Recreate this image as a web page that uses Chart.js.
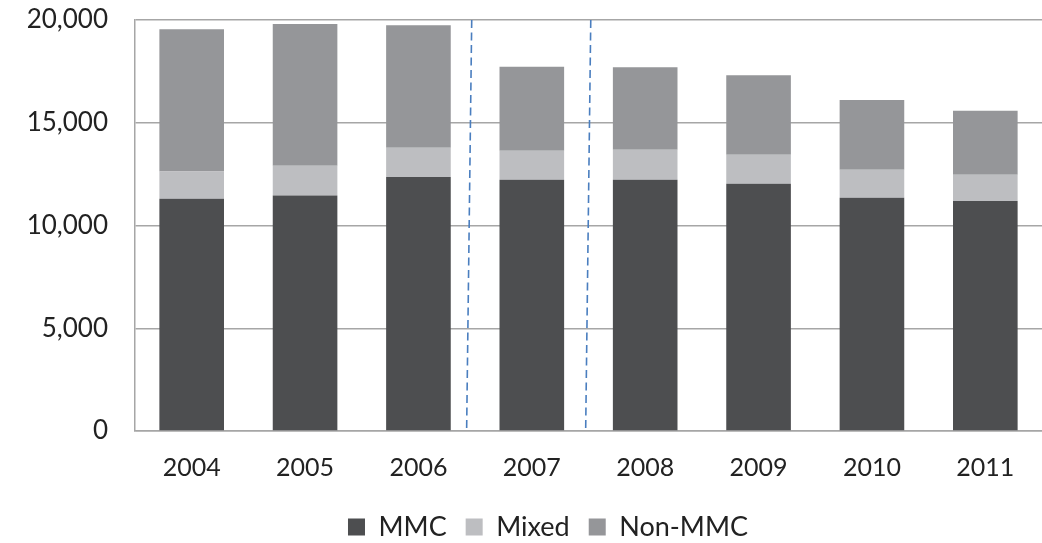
<!DOCTYPE html>
<html>
<head>
<meta charset="utf-8">
<script src="https://cdn.jsdelivr.net/npm/chart.js@4.4.1/dist/chart.umd.min.js"></script>
<style>
  html, body { margin: 0; padding: 0; background: #ffffff; }
  #wrap { width: 1042px; height: 543px; position: relative; }
</style>
</head>
<body>
<div id="wrap"><canvas id="c" width="1042" height="543"></canvas></div>
<script>
const categories = ['2004', '2005', '2006', '2007', '2008', '2009', '2010', '2011'];
const mmc    = [11300, 11460, 12355, 12225, 12225, 12030, 11350, 11190];
const mixed  = [1330, 1450, 1430, 1415, 1465, 1415, 1365, 1280];
const nonMmc = [6920, 6900, 5955, 4090, 4010, 3865, 3390, 3120];
const yTicks = [0, 5000, 10000, 15000, 20000];
// dashed separators: [index at top, index at bottom] on the category scale
const separators = [[2.47, 2.425], [3.52, 3.475]];

const FONT = 'Lato, "Open Sans", sans-serif';

const sepPlugin = {
  id: 'separators',
  afterDatasetsDraw(chart) {
    const { ctx, scales: { x, y } } = chart;
    ctx.save();
    ctx.strokeStyle = '#4a7ebf';
    ctx.lineWidth = 1.6;
    ctx.setLineDash([8, 4.5]);
    separators.forEach(([a, b]) => {
      ctx.beginPath();
      ctx.moveTo(x.getPixelForValue(a), y.getPixelForValue(20000));
      ctx.lineTo(x.getPixelForValue(b), y.getPixelForValue(0));
      ctx.stroke();
    });
    ctx.restore();
  }
};

// shift the legend block to the right, as in the original
const legendShift = {
  id: 'legendShift',
  afterLayout(chart) {
    if (chart.legend) {
      chart.legend.left += 27;
      chart.legend.right += 27;
    }
  }
};

new Chart(document.getElementById('c'), {
  type: 'bar',
  data: {
    labels: categories,
    datasets: [
      { label: 'MMC', data: mmc, backgroundColor: '#4d4e50' },
      { label: 'Mixed', data: mixed, backgroundColor: '#bdbec1' },
      { label: 'Non-MMC', data: nonMmc, backgroundColor: '#959699' }
    ]
  },
  options: {
    responsive: false,
    animation: false,
    layout: { padding: { top: 20, right: 0, left: 0, bottom: -7.5 } },
    datasets: { bar: { categoryPercentage: 1, barPercentage: 0.57, borderWidth: 0 } },
    plugins: {
      legend: {
        position: 'bottom',
        labels: {
          font: { family: FONT, size: 27 },
          color: '#222',
          boxWidth: 17,
          boxHeight: 17,
          padding: 19
        }
      },
      tooltip: { enabled: false }
    },
    scales: {
      x: {
        stacked: true,
        afterFit(scale) { scale.height = 63.5; scale.paddingLeft = 0; scale.paddingRight = 0; },
        grid: { display: false, drawTicks: false },
        border: { display: true, color: '#a6a6a6', width: 1.5 },
        ticks: { font: { family: FONT, size: 25 }, color: '#222', padding: 22 }
      },
      y: {
        stacked: true,
        min: 0,
        max: 20000,
        afterBuildTicks(scale) { scale.ticks = yTicks.map(v => ({ value: v })); },
        afterFit(scale) { scale.width = 135; scale.paddingTop = 0; scale.paddingBottom = 0; },
        grid: { color: '#a6a6a6', lineWidth: 1.5, drawTicks: false },
        border: { display: true, color: '#a6a6a6', width: 1.5 },
        ticks: {
          font: { family: FONT, size: 26 },
          color: '#222',
          padding: 27,
          callback: v => v.toLocaleString('en-US')
        }
      }
    }
  },
  plugins: [sepPlugin, legendShift]
});
</script>
</body>
</html>
